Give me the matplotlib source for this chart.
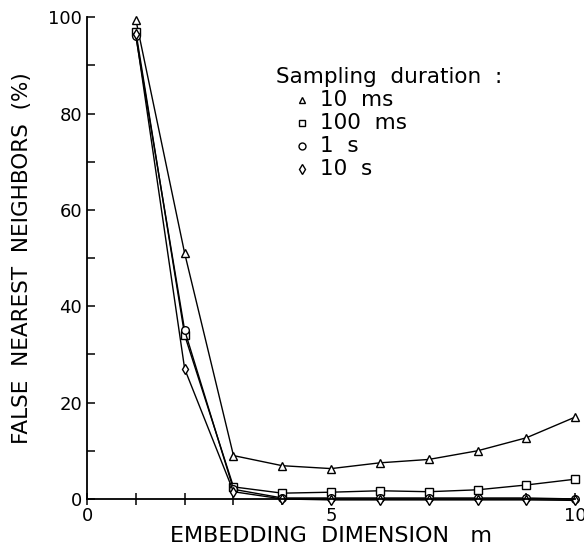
import numpy as np
import matplotlib.pyplot as plt
from matplotlib.ticker import MultipleLocator

m = [1, 2, 3, 4, 5, 6, 7, 8, 9, 10]
fnn_10ms = [99.5, 51, 9, 6.9, 6.3, 7.5, 8.2, 10, 12.7, 17]
fnn_100ms = [97, 34, 2.5, 1.2, 1.4, 1.7, 1.5, 1.9, 2.9, 4.1]
fnn_1s = [96, 35, 2, 0.2, 0.2, 0.2, 0.2, 0.2, 0.2, 0.0]
fnn_10s = [96.5, 27, 1.5, 0.0, -0.2, -0.2, -0.2, -0.2, -0.2, -0.3]

series = [(fnn_10ms, '^', '10  ms'), (fnn_100ms, 's', '100  ms'),
          (fnn_1s, 'o', '1  s'), (fnn_10s, 'd', '10  s')]

fig = plt.figure(figsize=(5.84, 5.55), dpi=100)
ax = fig.add_axes([0.149, 0.101, 0.836, 0.868])

for y, mk, lab in series:
    ax.plot(m, y, color='black', lw=1.0, marker=mk, ms=5.5, mfc='white',
            mec='black', mew=1.0, clip_on=False)

ax.set_xlim(0, 10)
ax.set_ylim(0, 100)
for s in ['top', 'right']:
    ax.spines[s].set_visible(False)
ax.spines['left'].set_linewidth(1.3)
ax.spines['bottom'].set_linewidth(1.3)

ax.xaxis.set_major_locator(MultipleLocator(5))
ax.xaxis.set_minor_locator(MultipleLocator(1))
ax.yaxis.set_major_locator(MultipleLocator(20))
ax.yaxis.set_minor_locator(MultipleLocator(10))
ax.tick_params(axis='x', which='both', direction='inout', length=9, width=1.1, labelsize=13, pad=1)
ax.tick_params(axis='y', which='both', direction='in', length=6, width=1.1, labelsize=13)

ax.set_xlabel('EMBEDDING  DIMENSION   m', fontsize=16, labelpad=1)
ax.set_ylabel('FALSE  NEAREST  NEIGHBORS  (%)', fontsize=15.5, labelpad=12)

# legend drawn as text with markers
ax.text(3.88, 87.5, 'Sampling  duration  :', fontsize=15.5, va='center')
for i, (y, mk, lab) in enumerate(series):
    yy = 82.8 - i * 4.8
    ax.plot([4.4], [yy], marker=mk, ms=5, mfc='white', mec='black', mew=1.0, ls='none')
    ax.text(4.78, yy, lab, fontsize=15.5, va='center')

fig.savefig('out.png', dpi=100)
